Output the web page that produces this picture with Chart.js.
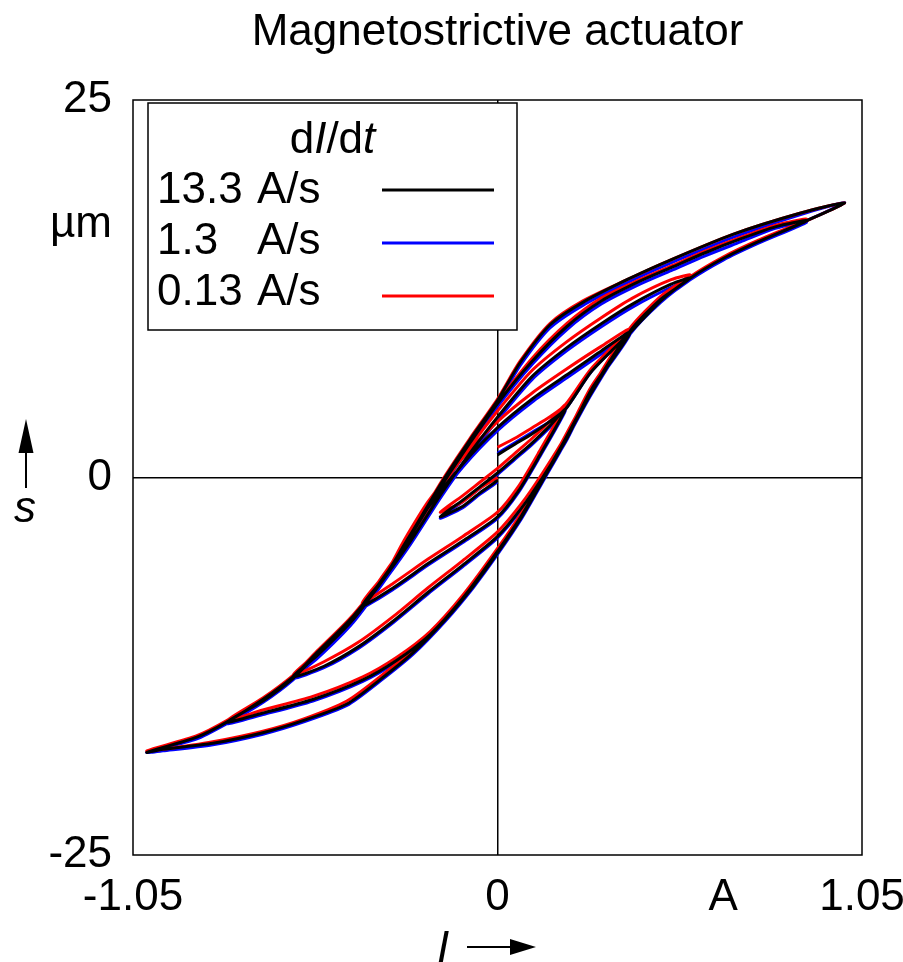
<!DOCTYPE html>
<html>
<head>
<meta charset="utf-8">
<title>Magnetostrictive actuator</title>
<script src="https://cdn.jsdelivr.net/npm/chart.js@4.4.1/dist/chart.umd.min.js"></script>
<style>
  html, body { margin: 0; padding: 0; background: #fff; }
  #wrap { width: 903px; height: 962px; }
</style>
</head>
<body>
<div id="wrap"><canvas id="loops" width="903" height="962"></canvas></div>
<script>
// current program I (A), same for every sweep rate
const current = [
  0, 0.05, 0.1, 0.15, 0.195, 0.27, 0.382, 0.47, 0.555, 0.65, 0.75, 0.89, 1.0,
  0.871, 0.678, 0.488, 0.373, 0.246, 0.151, 0.065, 0, -0.079, -0.157, -0.243, -0.318, -0.416, -0.52, -0.589, -0.676, -0.78, -0.866, -1.01,
  -0.964, -0.82, -0.676, -0.56, -0.434, -0.339, -0.243, -0.15, -0.07, 0, 0.07, 0.135, 0.18, 0.27, 0.382, 0.47, 0.555, 0.65, 0.75, 0.89,
  0.8, 0.7, 0.6, 0.5, 0.41, 0.3, 0.2, 0.1, 0, -0.079, -0.157, -0.243, -0.318, -0.416, -0.52, -0.589, -0.676, -0.78,
  -0.676, -0.532, -0.388, -0.29, -0.194, -0.1, 0, 0.07, 0.135, 0.18, 0.27, 0.382, 0.47, 0.555,
  0.5, 0.39, 0.3, 0.2, 0.1, 0, -0.08, -0.16, -0.25, -0.318, -0.416, -0.52, -0.589,
  -0.5, -0.4, -0.3, -0.2, -0.1, 0, 0.07, 0.13, 0.2, 0.27, 0.382,
  0.3, 0.2, 0.1, 0, -0.1, -0.2, -0.27, -0.318, -0.39,
  -0.3, -0.2, -0.1, 0, 0.06, 0.12, 0.195,
  0.15, 0.1, 0.05, 0, -0.05, -0.1, -0.165,
  -0.1, -0.05, 0
];

// stroke s (um) for 13.3 A/s
const strokeFast = [
  1.5, 2.2, 2.9, 3.7, 4.5, 7.0, 9.6, 11.7, 13.2, 14.5, 15.6, 17.0, 18.2,
  17.5, 16.1, 14.3, 13.1, 11.6, 10.1, 7.6, 5.1, 2.5, -0.2, -3.5, -6.3, -9.2, -11.6, -13.2, -14.7, -16.2, -17.2, -18.2,
  -18.0, -17.6, -16.9, -16.1, -15.0, -13.4, -11.6, -9.4, -7.2, -5.0, -2.6, 0.0, 1.8, 5.6, 9.6, 11.7, 13.2, 14.5, 15.6, 17.0,
  16.6, 15.8, 14.9, 13.9, 13.0, 11.7, 10.0, 7.7, 4.9, 2.3, -0.4, -3.6, -6.4, -9.3, -11.7, -13.3, -14.8, -16.2,
  -15.6, -14.7, -13.4, -12.1, -10.4, -8.0, -4.9, -2.5, 0.1, 1.9, 5.7, 9.7, 11.8, 13.2,
  12.8, 11.5, 10.2, 8.6, 6.7, 4.0, 1.6, -1.0, -4.2, -6.4, -9.4, -11.8, -13.2,
  -12.5, -11.2, -9.5, -7.6, -5.8, -3.9, -2.0, 0.0, 2.6, 5.8, 9.6,
  8.4, 6.8, 5.2, 3.3, 0.9, -2.0, -4.5, -6.4, -8.5,
  -7.3, -5.7, -4.2, -2.6, -0.9, 1.4, 4.5,
  3.4, 2.3, 1.3, 0.3, -0.6, -1.5, -2.6,
  -1.9, -1.0, -0.2
];

// stroke s (um) for 1.3 A/s
const strokeMid = [
  1.6, 2.3, 3.0, 3.7, 4.5, 7.0, 9.6, 11.7, 13.2, 14.5, 15.6, 17.0, 18.2,
  17.4, 15.9, 14.1, 12.9, 11.4, 9.9, 7.4, 4.9, 2.3, -0.4, -3.7, -6.5, -9.4, -11.8, -13.4, -14.9, -16.3, -17.3, -18.2,
  -18.1, -17.7, -17.0, -16.2, -15.1, -13.5, -11.7, -9.5, -7.3, -5.1, -2.7, -0.1, 1.7, 5.5, 9.5, 11.6, 13.1, 14.4, 15.5, 16.9,
  16.5, 15.6, 14.7, 13.7, 12.8, 11.5, 9.8, 7.5, 4.7, 2.1, -0.6, -3.8, -6.6, -9.5, -11.9, -13.4, -14.9, -16.3,
  -15.7, -14.8, -13.5, -12.2, -10.5, -8.1, -5.0, -2.6, 0.0, 1.8, 5.6, 9.6, 11.7, 13.1,
  12.6, 11.3, 10.0, 8.4, 6.5, 3.8, 1.4, -1.2, -4.4, -6.6, -9.6, -12.0, -13.3,
  -12.6, -11.3, -9.6, -7.7, -5.9, -4.0, -2.1, -0.1, 2.5, 5.7, 9.5,
  8.2, 6.6, 5.0, 3.1, 0.7, -2.2, -4.7, -6.6, -8.6,
  -7.4, -5.8, -4.3, -2.7, -1.0, 1.3, 4.4,
  3.3, 2.2, 1.2, 0.2, -0.7, -1.6, -2.7,
  -2.0, -1.1, -0.3
];

// stroke s (um) for 0.13 A/s
const strokeSlow = [
  2.0, 2.6, 3.3, 4.0, 4.8, 7.2, 9.8, 11.8, 13.3, 14.6, 15.7, 17.0, 18.2,
  17.5, 16.1, 14.3, 13.1, 11.7, 10.2, 7.7, 5.2, 2.6, -0.1, -3.4, -6.2, -9.1, -11.5, -13.1, -14.6, -16.1, -17.1, -18.1,
  -18.0, -17.5, -16.8, -16.0, -14.8, -13.2, -11.4, -9.2, -7.0, -4.8, -2.4, 0.2, 2.0, 5.8, 9.8, 11.9, 13.3, 14.6, 15.7, 17.1,
  16.7, 15.9, 15.0, 14.0, 13.1, 11.9, 10.2, 7.9, 5.0, 2.5, -0.2, -3.4, -6.2, -9.1, -11.5, -13.1, -14.6, -16.1,
  -15.4, -14.5, -13.2, -11.9, -10.2, -7.8, -4.7, -2.3, 0.3, 2.1, 5.9, 9.9, 12.0, 13.4,
  13.1, 11.9, 10.6, 9.0, 7.1, 4.4, 2.0, -0.6, -3.9, -6.1, -9.2, -11.6, -13.1,
  -12.2, -10.9, -9.2, -7.3, -5.5, -3.6, -1.7, 0.3, 2.9, 6.0, 9.8,
  8.7, 7.2, 5.6, 3.7, 1.3, -1.6, -4.2, -6.2, -8.3,
  -7.0, -5.4, -3.9, -2.3, -0.6, 1.7, 4.8,
  3.7, 2.6, 1.6, 0.6, -0.3, -1.2, -2.3,
  -1.6, -0.7, 0.0
];

const rateLabels = ['13.3', '1.3', '0.13'];
const rateColors = ['#000000', '#0000ff', '#ff0000'];

const xTicks = [-1.05, 0, 0.65, 1.05];
const xTickLabels = ['-1.05', '0', 'A', '1.05'];
const yTicks = [-25, 0, 16.7, 25];
const yTickLabels = ['-25', '0', 'µm', '25'];

const FONT = '"Liberation Sans", Arial, Helvetica, sans-serif';
Chart.defaults.font.family = FONT;
Chart.defaults.color = '#000';

function toPoints(s) {
  return current.map((x, i) => ({ x: x, y: s[i] }));
}

const series = [strokeFast, strokeMid, strokeSlow];
const drawOrder = [0, 2, 1]; // black on top, blue at the bottom

const datasets = series.map((s, k) => ({
  label: rateLabels[k] + ' A/s',
  data: toPoints(s),
  borderColor: rateColors[k],
  backgroundColor: rateColors[k],
  borderWidth: 3,
  pointRadius: 0,
  showLine: true,
  tension: 0.25,
  order: drawOrder[k]
}));

// write text made of upright and italic pieces, centred or left aligned
function richText(ctx, parts, x, y, align) {
  let w = 0;
  parts.forEach(p => {
    ctx.font = (p[1] ? 'italic ' : '') + '44px ' + FONT;
    w += ctx.measureText(p[0]).width;
  });
  let cx = align === 'center' ? x - w / 2 : x;
  ctx.textAlign = 'left';
  parts.forEach(p => {
    ctx.font = (p[1] ? 'italic ' : '') + '44px ' + FONT;
    ctx.fillText(p[0], cx, y);
    cx += ctx.measureText(p[0]).width;
  });
}

const decor = {
  id: 'decor',
  afterDraw(chart) {
    const ctx = chart.ctx;
    const a = chart.chartArea;
    ctx.save();
    ctx.strokeStyle = '#000';
    ctx.fillStyle = '#000';

    // plot frame
    ctx.lineWidth = 1.5;
    ctx.strokeRect(a.left, a.top, a.right - a.left, a.bottom - a.top);

    // title
    ctx.textBaseline = 'alphabetic';
    ctx.textAlign = 'center';
    ctx.font = '44px ' + FONT;
    ctx.fillText('Magnetostrictive actuator', (a.left + a.right) / 2, 45);

    // legend box
    const bx = a.left + 15, by = a.top + 3, bw = 369, bh = 227;
    ctx.fillStyle = '#fff';
    ctx.fillRect(bx, by, bw, bh);
    ctx.lineWidth = 1.5;
    ctx.strokeRect(bx, by, bw, bh);
    ctx.fillStyle = '#000';
    richText(ctx, [['d', false], ['I', true], ['/d', false], ['t', true]], bx + bw / 2, by + 50, 'center');
    rateLabels.forEach((r, k) => {
      const ty = by + 100 + k * 51;
      ctx.font = '44px ' + FONT;
      ctx.textAlign = 'left';
      ctx.fillText(r, bx + 9, ty);
      ctx.fillText('A/s', bx + 109, ty);
      ctx.strokeStyle = rateColors[k];
      ctx.lineWidth = 3;
      ctx.beginPath();
      ctx.moveTo(bx + 234, by + 87 + k * 53);
      ctx.lineTo(bx + 346, by + 87 + k * 53);
      ctx.stroke();
    });

    // y-axis arrow and symbol
    ctx.strokeStyle = '#000';
    ctx.lineWidth = 2;
    ctx.beginPath();
    ctx.moveTo(26, 488);
    ctx.lineTo(26, 450);
    ctx.stroke();
    ctx.beginPath();
    ctx.moveTo(26, 419);
    ctx.lineTo(33.5, 453);
    ctx.lineTo(18.5, 453);
    ctx.closePath();
    ctx.fill();
    richText(ctx, [['s', true]], 25, 522, 'center');

    // x-axis symbol and arrow
    richText(ctx, [['I', true]], 437, 962, 'left');
    ctx.beginPath();
    ctx.moveTo(467, 947);
    ctx.lineTo(512, 947);
    ctx.stroke();
    ctx.beginPath();
    ctx.moveTo(536, 947);
    ctx.lineTo(510, 939);
    ctx.lineTo(510, 955);
    ctx.closePath();
    ctx.fill();

    ctx.restore();
  }
};

const zeroGrid = ctx => (ctx.tick && ctx.tick.value === 0 ? '#000' : 'rgba(0,0,0,0)');

new Chart(document.getElementById('loops'), {
  type: 'scatter',
  data: { datasets: datasets },
  options: {
    responsive: false,
    animation: false,
    events: [],
    layout: { padding: { left: 0, right: 41, top: 100, bottom: 0 } },
    plugins: {
      legend: { display: false },
      tooltip: { enabled: false },
      title: { display: false }
    },
    scales: {
      x: {
        type: 'linear',
        min: -1.05,
        max: 1.05,
        afterBuildTicks: scale => { scale.ticks = xTicks.map(v => ({ value: v })); },
        afterFit: scale => {
          scale.height = 107;
          scale.paddingLeft = 0;
          scale.paddingRight = 0;
        },
        grid: { color: zeroGrid, lineWidth: 1.5, drawTicks: false },
        border: { display: false },
        ticks: {
          autoSkip: false,
          maxRotation: 0,
          padding: 16,
          font: { size: 44 },
          callback: (v, i) => xTickLabels[i]
        }
      },
      y: {
        type: 'linear',
        min: -25,
        max: 25,
        afterBuildTicks: scale => { scale.ticks = yTicks.map(v => ({ value: v })); },
        afterFit: scale => { scale.width = 133; },
        grid: { color: zeroGrid, lineWidth: 1.5, drawTicks: false },
        border: { display: false },
        ticks: {
          autoSkip: false,
          padding: 21,
          font: { size: 44 },
          callback: (v, i) => yTickLabels[i]
        }
      }
    }
  },
  plugins: [decor]
});
</script>
</body>
</html>
